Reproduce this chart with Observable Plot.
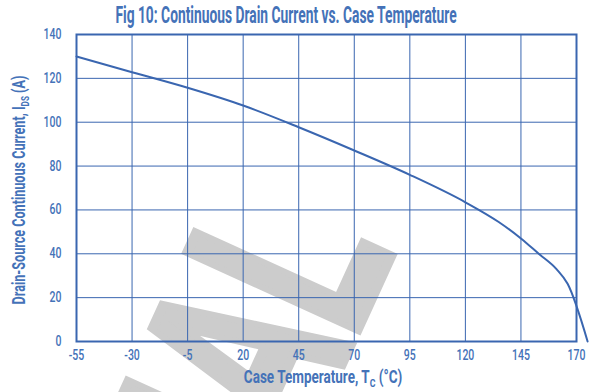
<!DOCTYPE html>
<html><head><meta charset="utf-8">
<script src="https://cdn.jsdelivr.net/npm/d3@7"></script>
<script src="https://cdn.jsdelivr.net/npm/@observablehq/plot@0.6"></script>
<style>
body{margin:0;background:#fff;}
#wrap{position:relative;width:592px;height:392px;overflow:hidden;font-family:Roboto,sans-serif;}
#wm{position:absolute;left:0;top:0;}
#chart{position:absolute;left:0;top:0;}
.t{position:absolute;color:#4472b8;font-weight:bold;white-space:nowrap;line-height:1;}
.t sub{font-size:0.65em;vertical-align:-0.35em;line-height:0;}
</style></head><body>
<div id="wrap">
<svg id="wm" width="592" height="392"><text x="0" y="0" text-anchor="end" transform="translate(394,250) rotate(-65.5) scale(0.6,1)" font-family="Liberation Sans, Arial, sans-serif" font-weight="bold" font-size="272" fill="#cccccc" stroke="#cccccc" stroke-width="10" stroke-linejoin="miter">IAL</text></svg>
<div id="chart"></div>
<div class="t" id="title" style="left:286px;top:15px;font-size:23px;transform:translate(-50%,-50%) scaleX(0.6);">Fig 10: Continuous Drain Current vs. Case Temperature</div>
<div class="t" id="xlab" style="left:323px;top:377px;font-size:18px;transform:translate(-50%,-50%) scaleX(0.75);">Case Temperature, T<sub>C</sub> (°C)</div>
<div class="t" id="ylab" style="left:19px;top:190px;font-size:18px;transform:translate(-50%,-50%) rotate(-90deg) scaleX(0.7);">Drain-Source Continuous Current, I<sub>DS</sub> (A)</div>
</div>
<script>
// Data
const temps   = [-55, -30, -5, 20, 45, 70, 95, 120, 135, 145, 153, 161, 166, 175];
const current = [130, 122.8, 115.7, 107.6, 97.7, 87.1, 76.0, 63.5, 54.5, 47, 40, 33, 26.3, 0];
const xTicks = [-55, -30, -5, 20, 45, 70, 95, 120, 145, 170];
const yTicks = [0, 20, 40, 60, 80, 100, 120, 140];

const data = temps.map((t, k) => ({t, i: current[k]}));
const blue = "#3a66b0";

const chart = Plot.plot({
  width: 592, height: 392,
  marginTop: 34, marginBottom: 51, marginLeft: 76, marginRight: 16,
  style: {background: "transparent", color: "#4472b8", fontFamily: "Roboto, sans-serif", fontSize: "14px", fontWeight: "500"},
  x: {domain: [-55, 170], ticks: xTicks, tickSize: 0, tickPadding: 9, label: null, tickFormat: d => String(d)},
  y: {domain: [0, 140], ticks: yTicks, tickSize: 0, tickPadding: 15, label: null, tickFormat: d => String(d)},
  marks: [
    Plot.ruleX(xTicks, {stroke: blue, strokeWidth: 1}),
    Plot.ruleY(yTicks, {stroke: blue, strokeWidth: 1}),
    Plot.frame({stroke: blue, strokeWidth: 2}),
    Plot.line(data, {x: "t", y: "i", stroke: blue, strokeWidth: 2, curve: "monotone-x"})
  ]
});
document.getElementById("chart").appendChild(chart);
chart.querySelectorAll("text").forEach(el => {
  const tr = el.getAttribute("transform") || "";
  el.setAttribute("transform", tr + " scale(0.75,1)");
});
</script>
</body></html>
